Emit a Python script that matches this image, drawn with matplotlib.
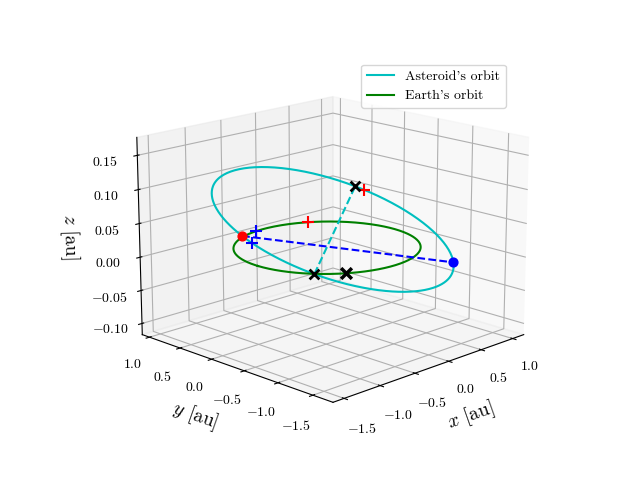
import numpy as np
import matplotlib
matplotlib.use("Agg")
import matplotlib.pyplot as plt

plt.rcParams["font.family"] = "serif"
plt.rcParams["font.serif"] = ["cmr10"]
plt.rcParams["mathtext.fontset"] = "cm"
plt.rcParams["axes.formatter.use_mathtext"] = True

# asteroid orbit: semi-latus rectum, eccentricity, perihelion / in-plane unit vectors
ast_p = 1.197
ast_e = 0.31
ast_phat = np.array([0.573, 0.817, -0.087])
ast_qhat = np.array([0.816, -0.579, -0.059])
earth_radius = 1.0

# marker true anomalies [deg]
ast_nodes_nu = [-56.0, 124.0]       # red dot / blue dot
ast_apsides_nu = [0.0, 180.0]       # black crosses
ast_red_plus_nu = [177.0]
ast_blue_plus_nu = [-47.0]
earth_red_plus_th = [58.5]
earth_cross_th = [-122.8]
earth_blue_plus_th = [97.0]


def ast_pos(nu):
    nu = np.radians(np.atleast_1d(nu))
    r = ast_p / (1 + ast_e * np.cos(nu))
    return r * (np.cos(nu) * ast_phat[:, None] + np.sin(nu) * ast_qhat[:, None])


def earth_pos(th):
    th = np.radians(np.atleast_1d(th))
    return np.array([earth_radius * np.cos(th), earth_radius * np.sin(th), 0 * th])


fig = plt.figure(figsize=(6.4, 4.8))
ax = fig.add_subplot(projection="3d")

nus = np.linspace(-180, 180, 400)
o = ast_pos(nus)
ax.plot(o[0], o[1], o[2], color="c", label="Asteroid's orbit")
e = earth_pos(nus)
ax.plot(e[0], e[1], e[2], color="g", label="Earth's orbit")

nd = ast_pos(ast_nodes_nu)
ax.plot(nd[0], nd[1], nd[2], "b--")
ax.scatter(nd[0, :1], nd[1, :1], nd[2, :1], color="r", s=40, depthshade=False)
ax.scatter(nd[0, 1:], nd[1, 1:], nd[2, 1:], color="b", s=40, depthshade=False)

ap = ast_pos(ast_apsides_nu)
ax.plot(ap[0], ap[1], ap[2], "c--")
ax.scatter(ap[0], ap[1], ap[2], color="k", marker="x", s=50, linewidths=2, depthshade=False)
ec = earth_pos(earth_cross_th)
ax.scatter(ec[0], ec[1], ec[2], color="k", marker="x", s=60, linewidths=2.5, depthshade=False)

rp = np.hstack([ast_pos(ast_red_plus_nu), earth_pos(earth_red_plus_th)])
ax.scatter(rp[0], rp[1], rp[2], color="r", marker="+", s=80, linewidths=1.5, depthshade=False)
bp = np.hstack([ast_pos(ast_blue_plus_nu), earth_pos(earth_blue_plus_th)])
ax.scatter(bp[0], bp[1], bp[2], color="b", marker="+", s=80, linewidths=1.5, depthshade=False)

ax.set_xlim(-1.65, 1.18)
ax.set_ylim(-1.78, 1.12)
ax.set_zlim(-0.117, 0.176)
ax.set_xticks([-1.5, -1.0, -0.5, 0.0, 0.5, 1.0])
ax.set_yticks([-1.5, -1.0, -0.5, 0.0, 0.5, 1.0])
ax.set_zticks([-0.10, -0.05, 0.0, 0.05, 0.10, 0.15])
ax.set_xlabel("$x$ [au]", fontsize=14)
ax.set_ylabel("$y$ [au]", fontsize=14)
ax.set_zlabel("$z$ [au]", fontsize=14)
ax.view_init(elev=16, azim=-135)
ax.set_box_aspect(None, zoom=1.15)
ax.legend(loc="upper right")

fig.savefig("out.png", dpi=100)
